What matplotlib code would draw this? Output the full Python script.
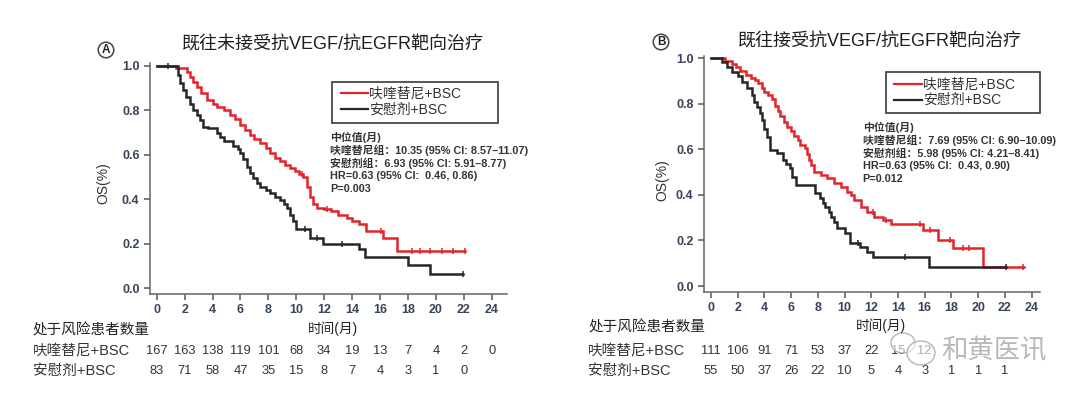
import numpy as np
import matplotlib
matplotlib.use("Agg")
import matplotlib.pyplot as plt
from matplotlib.transforms import blended_transform_factory
from matplotlib.patches import Rectangle, Ellipse
from matplotlib.lines import Line2D

FAM = ['Liberation Sans', 'Noto Sans CJK SC', 'DejaVu Sans']
plt.rcParams['font.family'] = FAM

# ---------------- data ----------------
titles = ["既往未接受抗VEGF/抗EGFR靶向治疗", "既往接受抗VEGF/抗EGFR靶向治疗"]
panel_letters = ["A", "B"]
series_names = ["呋喹替尼+BSC", "安慰剂+BSC"]

# Panel A  fruquintinib
a_red_t = [0, 1.4, 2.2, 2.4, 2.6, 2.9, 3.2, 3.6, 4.0, 4.3, 4.8, 5.25, 5.6, 5.97, 6.3, 6.7, 7.0,
           7.4, 7.8, 8.1, 8.5, 8.85, 9.2, 9.55, 9.9, 10.2, 10.5, 10.75, 11.0, 11.2, 11.45, 12.0,
           12.5, 13.0, 13.6, 14.0, 14.5, 15.0, 16.2, 17.2, 22.1]
a_red_s = [1.0, 0.99, 0.975, 0.95, 0.93, 0.907, 0.88, 0.847, 0.83, 0.817, 0.80, 0.78, 0.76, 0.735,
           0.71, 0.69, 0.672, 0.652, 0.63, 0.607, 0.587, 0.57, 0.555, 0.54, 0.525, 0.514, 0.50,
           0.457, 0.41, 0.38, 0.36, 0.355, 0.345, 0.33, 0.315, 0.30, 0.29, 0.255, 0.225, 0.165, 0.165]
a_red_cens = [10.4, 12.2, 16.1, 18.27, 18.86, 19.58, 20.42, 21.25, 22.08]
# Panel A  placebo
a_blk_t = [0, 1.5, 1.7, 1.9, 2.1, 2.4, 2.6, 2.9, 3.1, 3.35, 3.7, 4.3, 4.55, 4.8, 5.5, 5.8, 6.0,
           6.2, 6.45, 6.7, 6.93, 7.2, 7.4, 7.8, 8.1, 8.5, 8.85, 9.1, 9.35, 9.55, 9.75, 9.95, 10.95,
           11.9, 14.5, 14.95, 18.0, 19.55, 21.97]
a_blk_s = [1.0, 0.96, 0.925, 0.89, 0.862, 0.83, 0.80, 0.78, 0.755, 0.727, 0.72, 0.70, 0.68, 0.66,
           0.64, 0.625, 0.607, 0.58, 0.547, 0.52, 0.495, 0.475, 0.457, 0.44, 0.427, 0.41, 0.397,
           0.38, 0.36, 0.33, 0.30, 0.265, 0.225, 0.20, 0.175, 0.14, 0.105, 0.063, 0.063]
a_blk_cens = [0.84, 10.6, 11.46, 13.25, 21.97]

# Panel B  fruquintinib
b_red_t = [0, 1.05, 1.55, 1.9, 2.2, 2.6, 3.0, 3.3, 3.55, 3.8, 4.0, 4.3, 4.6, 4.8, 5.0, 5.2, 5.5,
           5.7, 6.0, 6.2, 6.5, 6.7, 7.05, 7.2, 7.35, 7.5, 7.7, 8.2, 8.7, 9.2, 9.7, 10.2, 10.5,
           10.7, 11.2, 11.7, 12.2, 12.9, 13.5, 15.9, 17.0, 18.1, 20.4, 23.4]
b_red_s = [1.0, 0.99, 0.975, 0.96, 0.945, 0.927, 0.915, 0.905, 0.89, 0.87, 0.854, 0.839, 0.82,
           0.79, 0.77, 0.745, 0.72, 0.70, 0.68, 0.66, 0.64, 0.619, 0.605, 0.58, 0.555, 0.53,
           0.502, 0.488, 0.473, 0.454, 0.436, 0.414, 0.40, 0.378, 0.348, 0.327, 0.305, 0.29,
           0.272, 0.246, 0.202, 0.168, 0.085, 0.085]
b_red_cens = [12.1, 13.1, 15.64, 16.4, 17.9, 18.9, 19.3, 23.38]
# Panel B  placebo
b_blk_t = [0, 0.8, 1.2, 1.55, 2.05, 2.3, 2.7, 3.05, 3.25, 3.45, 3.65, 3.8, 4.0, 4.2, 4.45, 4.95,
           5.4, 5.65, 5.9, 6.1, 6.35, 7.8, 8.15, 8.4, 8.55, 8.8, 9.0, 9.2, 9.45, 10.05, 10.4,
           11.15, 11.65, 12.15, 16.3, 22.1]
b_blk_s = [1.0, 0.985, 0.963, 0.941, 0.92, 0.897, 0.868, 0.839, 0.81, 0.788, 0.76, 0.729, 0.69,
           0.656, 0.597, 0.583, 0.553, 0.535, 0.517, 0.48, 0.445, 0.407, 0.385, 0.363, 0.345,
           0.327, 0.305, 0.283, 0.253, 0.231, 0.187, 0.173, 0.151, 0.126, 0.082, 0.082]
b_blk_cens = [11.0, 14.52, 22.1]

risk_times = [0, 2, 4, 6, 8, 10, 12, 14, 16, 18, 20, 22, 24]
a_risk_red = [167, 163, 138, 119, 101, 68, 34, 19, 13, 7, 4, 2, 0]
a_risk_blk = [83, 71, 58, 47, 35, 15, 8, 7, 4, 3, 1, 0]
b_risk_red = [111, 106, 91, 71, 53, 37, 22, 15, 12]
b_risk_blk = [55, 50, 37, 26, 22, 10, 5, 4, 3, 1, 1, 1]

a_stats = ["中位值(月)",
           "呋喹替尼组：10.35 (95% CI: 8.57–11.07)",
           "安慰剂组：6.93 (95% CI: 5.91–8.77)",
           "HR=0.63 (95% CI:  0.46, 0.86)",
           "P=0.003"]
b_stats = ["中位值(月)",
           "呋喹替尼组：7.69 (95% CI: 6.90–10.09)",
           "安慰剂组：5.98 (95% CI: 4.21–8.41)",
           "HR=0.63 (95% CI:  0.43, 0.90)",
           "P=0.012"]

RED = "#e3242b"
BLK = "#262626"
TICK_TXT = "#37445a"

W, H = 1080, 398
fig = plt.figure(figsize=(W / 100, H / 100), dpi=100)

def fx(px):
    return px / W

def fy(py):
    return 1 - py / H

panels = [
    dict(rect=[fx(150), fy(294), fx(357), 231 / H], xlim=(-0.48, 25.09), ylim=(-0.027, 1.0135),
         red=(a_red_t, a_red_s, a_red_cens), blk=(a_blk_t, a_blk_s, a_blk_cens),
         rr=a_risk_red, rb=a_risk_blk, stats=a_stats, title=titles[0], letter=panel_letters[0],
         title_xy=(333, 45), letter_xy=(106, 50), ylab_xy=(103, 183),
         leg=(331.7, 81.7, 498, 122.7), leg_line=(340.7, 368), leg_y=(93.3, 109.3),
         stats_xy=(330, 137.3), risk_lab=(32.9, 330.4), time_lab=(333, 329),
         rows_y=(351.2, 370.9)),
    dict(rect=[fx(704), fy(291.7), fx(336), 235.7 / H], xlim=(-0.524, 24.63), ylim=(-0.025, 1.010),
         red=(b_red_t, b_red_s, b_red_cens), blk=(b_blk_t, b_blk_s, b_blk_cens),
         rr=b_risk_red, rb=b_risk_blk, stats=b_stats, title=titles[1], letter=panel_letters[1],
         title_xy=(880, 41.7), letter_xy=(661, 42), ylab_xy=(662.7, 180),
         leg=(886, 71.7, 1040, 112.7), leg_line=(894, 921.7), leg_y=(84.3, 100),
         stats_xy=(862.7, 127.3), risk_lab=(588.4, 327.7), time_lab=(880.8, 326),
         rows_y=(351.2, 371.0)),
]

for p in panels:
    ax = fig.add_axes(p["rect"])
    for (t, s, cens), col in [(p["red"], RED), (p["blk"], BLK)]:
        t = np.asarray(t); s = np.asarray(s)
        ax.step(t, s, where="post", color=col, lw=1.8, solid_joinstyle="miter")
        c = np.asarray(cens)
        idx = np.searchsorted(t, c, side="right") - 1
        ax.plot(c, s[idx], linestyle="none", marker="|", ms=4.5, mew=1.1, color=col)
    ax.set_xlim(*p["xlim"])
    ax.set_ylim(*p["ylim"])
    ax.set_xticks(risk_times)
    ax.set_yticks([0.0, 0.2, 0.4, 0.6, 0.8, 1.0])
    ax.set_yticklabels([f"{v:.1f}" for v in [0.0, 0.2, 0.4, 0.6, 0.8, 1.0]])
    for sp in ["top", "right"]:
        ax.spines[sp].set_visible(False)
    for sp in ["left", "bottom"]:
        ax.spines[sp].set_color("#666666")
        ax.spines[sp].set_linewidth(1.1)
    ax.tick_params(axis="both", direction="out", length=4.5, width=1.1, color="#555555",
                   labelsize=9, labelcolor=TICK_TXT, pad=3)
    for lab in ax.get_xticklabels() + ax.get_yticklabels():
        lab.set_fontweight("bold")
    ax.patch.set_alpha(0)

    # title & letter
    fig.text(fx(p["title_xy"][0]), fy(p["title_xy"][1]), p["title"], ha="center", va="center",
             fontsize=13, color="#1e1e1e")
    fig.text(fx(p["letter_xy"][0]), fy(p["letter_xy"][1]), p["letter"], ha="center", va="center",
             fontsize=8.5, fontweight="bold", color="#222222",
             bbox=dict(boxstyle="circle,pad=0.15", fc="white", ec="#444444", lw=1.1))
    fig.text(fx(p["ylab_xy"][0]), fy(p["ylab_xy"][1]), "OS(%)", rotation=90, ha="center",
             va="center", fontsize=10, color="#333333")

    # legend box
    x0, y0, x1, y1 = p["leg"]
    fig.add_artist(Rectangle((fx(x0), fy(y1)), fx(x1 - x0), (y1 - y0) / H, transform=fig.transFigure,
                             fill=False, ec="#3a3a3a", lw=1.2))
    for yy, col, name in zip(p["leg_y"], [RED, BLK], series_names):
        fig.add_artist(Line2D([fx(p["leg_line"][0]), fx(p["leg_line"][1])], [fy(yy), fy(yy)],
                              transform=fig.transFigure, color=col, lw=1.6))
        fig.text(fx(p["leg_line"][1] + 1), fy(yy), name, ha="left", va="center", fontsize=10,
                 color="#333333")

    # stats
    sx, sy = p["stats_xy"]
    for i, line in enumerate(p["stats"]):
        fig.text(fx(sx), fy(sy + i * 13.0), line, ha="left", va="center", fontsize=7.8,
                 fontweight="bold", color="#333333")

    # risk table
    fig.text(fx(p["risk_lab"][0]), fy(p["risk_lab"][1]), "处于风险患者数量", ha="left", va="center",
             fontsize=10.5, color="#222222")
    fig.text(fx(p["time_lab"][0]), fy(p["time_lab"][1]), "时间(月)", ha="center", va="center",
             fontsize=9.8, color="#222222")
    tr = blended_transform_factory(ax.transData, fig.transFigure)
    for yy, name, vals in zip(p["rows_y"], series_names, [p["rr"], p["rb"]]):
        fig.text(fx(p["risk_lab"][0]), fy(yy), name, ha="left", va="center", fontsize=10.5,
                 color="#333333")
        for tt, v in zip(risk_times, vals):
            ax.text(tt, fy(yy), str(v), transform=tr, ha="center", va="center", fontsize=9.3,
                    color="#333333", clip_on=False)

# watermark
fig.add_artist(Ellipse((fx(903), fy(343)), fx(24), 20 / H, transform=fig.transFigure, fill=True,
                       fc=(1, 1, 1, 0.6), ec="#b5b5b5", lw=1.0))
fig.add_artist(Ellipse((fx(921), fy(353)), fx(28), 24 / H, transform=fig.transFigure, fill=True,
                       fc=(1, 1, 1, 0.6), ec="#b5b5b5", lw=1.0))
fig.text(fx(994), fy(351), "和黄医讯", ha="center", va="center", fontsize=19, color="#b8b8b8")

fig.savefig("out.png", dpi=100)
